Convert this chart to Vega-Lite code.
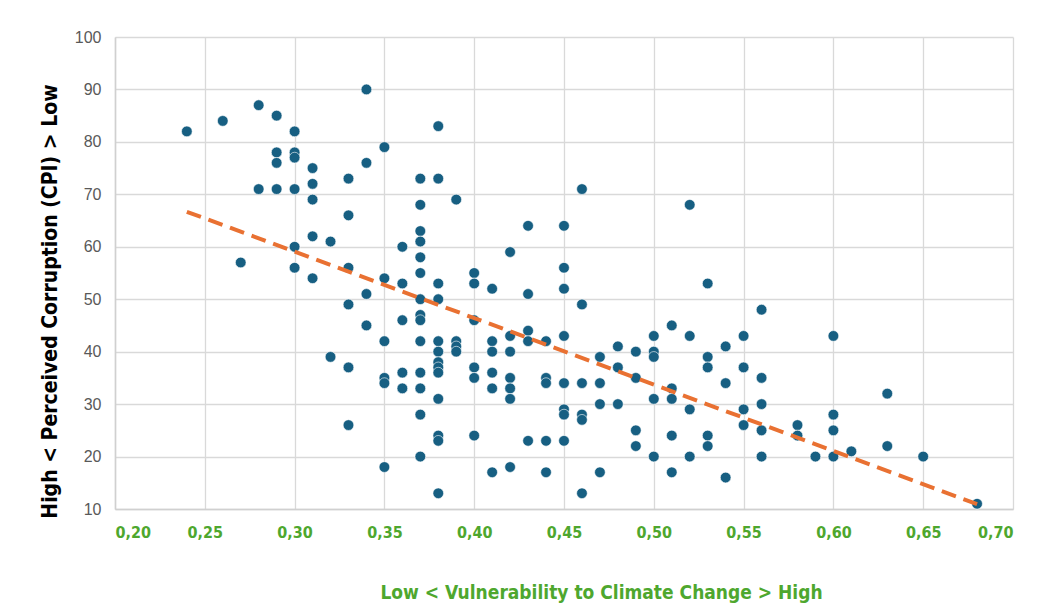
{
  "$schema": "https://vega.github.io/schema/vega-lite/v6.json",
  "autosize": {"type": "none"},
  "width": 898,
  "height": 472,
  "padding": {"left": 115, "top": 37, "right": 25, "bottom": 95},
  "background": "white",
  "config": {
    "view": {"stroke": null},
    "font": "Liberation Sans"
  },
  "data": {
    "values": [
      {"vuln": 0.24, "cpi": 82}, {"vuln": 0.26, "cpi": 84}, {"vuln": 0.27, "cpi": 57},
      {"vuln": 0.28, "cpi": 87}, {"vuln": 0.28, "cpi": 71},
      {"vuln": 0.29, "cpi": 85}, {"vuln": 0.29, "cpi": 78}, {"vuln": 0.29, "cpi": 76}, {"vuln": 0.29, "cpi": 71},
      {"vuln": 0.30, "cpi": 82}, {"vuln": 0.30, "cpi": 78}, {"vuln": 0.30, "cpi": 77}, {"vuln": 0.30, "cpi": 71}, {"vuln": 0.30, "cpi": 60}, {"vuln": 0.30, "cpi": 56},
      {"vuln": 0.31, "cpi": 75}, {"vuln": 0.31, "cpi": 72}, {"vuln": 0.31, "cpi": 69}, {"vuln": 0.31, "cpi": 62}, {"vuln": 0.31, "cpi": 54},
      {"vuln": 0.32, "cpi": 61}, {"vuln": 0.32, "cpi": 39},
      {"vuln": 0.33, "cpi": 73}, {"vuln": 0.33, "cpi": 66}, {"vuln": 0.33, "cpi": 56}, {"vuln": 0.33, "cpi": 49}, {"vuln": 0.33, "cpi": 37}, {"vuln": 0.33, "cpi": 26},
      {"vuln": 0.34, "cpi": 90}, {"vuln": 0.34, "cpi": 76}, {"vuln": 0.34, "cpi": 51}, {"vuln": 0.34, "cpi": 45},
      {"vuln": 0.35, "cpi": 79}, {"vuln": 0.35, "cpi": 54}, {"vuln": 0.35, "cpi": 42}, {"vuln": 0.35, "cpi": 35}, {"vuln": 0.35, "cpi": 34}, {"vuln": 0.35, "cpi": 18},
      {"vuln": 0.36, "cpi": 60}, {"vuln": 0.36, "cpi": 53}, {"vuln": 0.36, "cpi": 46}, {"vuln": 0.36, "cpi": 36}, {"vuln": 0.36, "cpi": 33},
      {"vuln": 0.37, "cpi": 73}, {"vuln": 0.37, "cpi": 68}, {"vuln": 0.37, "cpi": 63}, {"vuln": 0.37, "cpi": 61}, {"vuln": 0.37, "cpi": 58}, {"vuln": 0.37, "cpi": 55}, {"vuln": 0.37, "cpi": 50}, {"vuln": 0.37, "cpi": 47}, {"vuln": 0.37, "cpi": 46}, {"vuln": 0.37, "cpi": 42}, {"vuln": 0.37, "cpi": 36}, {"vuln": 0.37, "cpi": 33}, {"vuln": 0.37, "cpi": 28}, {"vuln": 0.37, "cpi": 20},
      {"vuln": 0.38, "cpi": 83}, {"vuln": 0.38, "cpi": 73}, {"vuln": 0.38, "cpi": 53}, {"vuln": 0.38, "cpi": 50}, {"vuln": 0.38, "cpi": 42}, {"vuln": 0.38, "cpi": 40}, {"vuln": 0.38, "cpi": 38}, {"vuln": 0.38, "cpi": 37}, {"vuln": 0.38, "cpi": 36}, {"vuln": 0.38, "cpi": 31}, {"vuln": 0.38, "cpi": 24}, {"vuln": 0.38, "cpi": 23}, {"vuln": 0.38, "cpi": 13},
      {"vuln": 0.39, "cpi": 69}, {"vuln": 0.39, "cpi": 42}, {"vuln": 0.39, "cpi": 41}, {"vuln": 0.39, "cpi": 40},
      {"vuln": 0.40, "cpi": 55}, {"vuln": 0.40, "cpi": 53}, {"vuln": 0.40, "cpi": 46}, {"vuln": 0.40, "cpi": 37}, {"vuln": 0.40, "cpi": 35}, {"vuln": 0.40, "cpi": 24},
      {"vuln": 0.41, "cpi": 52}, {"vuln": 0.41, "cpi": 42}, {"vuln": 0.41, "cpi": 40}, {"vuln": 0.41, "cpi": 36}, {"vuln": 0.41, "cpi": 33}, {"vuln": 0.41, "cpi": 17},
      {"vuln": 0.42, "cpi": 59}, {"vuln": 0.42, "cpi": 43}, {"vuln": 0.42, "cpi": 40}, {"vuln": 0.42, "cpi": 35}, {"vuln": 0.42, "cpi": 33}, {"vuln": 0.42, "cpi": 31}, {"vuln": 0.42, "cpi": 18},
      {"vuln": 0.43, "cpi": 64}, {"vuln": 0.43, "cpi": 51}, {"vuln": 0.43, "cpi": 44}, {"vuln": 0.43, "cpi": 42}, {"vuln": 0.43, "cpi": 23},
      {"vuln": 0.44, "cpi": 42}, {"vuln": 0.44, "cpi": 35}, {"vuln": 0.44, "cpi": 34}, {"vuln": 0.44, "cpi": 23}, {"vuln": 0.44, "cpi": 17},
      {"vuln": 0.45, "cpi": 64}, {"vuln": 0.45, "cpi": 56}, {"vuln": 0.45, "cpi": 52}, {"vuln": 0.45, "cpi": 43}, {"vuln": 0.45, "cpi": 34}, {"vuln": 0.45, "cpi": 29}, {"vuln": 0.45, "cpi": 28}, {"vuln": 0.45, "cpi": 23},
      {"vuln": 0.46, "cpi": 71}, {"vuln": 0.46, "cpi": 49}, {"vuln": 0.46, "cpi": 34}, {"vuln": 0.46, "cpi": 28}, {"vuln": 0.46, "cpi": 27}, {"vuln": 0.46, "cpi": 13},
      {"vuln": 0.47, "cpi": 39}, {"vuln": 0.47, "cpi": 34}, {"vuln": 0.47, "cpi": 30}, {"vuln": 0.47, "cpi": 17},
      {"vuln": 0.48, "cpi": 41}, {"vuln": 0.48, "cpi": 37}, {"vuln": 0.48, "cpi": 30},
      {"vuln": 0.49, "cpi": 40}, {"vuln": 0.49, "cpi": 35}, {"vuln": 0.49, "cpi": 25}, {"vuln": 0.49, "cpi": 22},
      {"vuln": 0.50, "cpi": 43}, {"vuln": 0.50, "cpi": 40}, {"vuln": 0.50, "cpi": 39}, {"vuln": 0.50, "cpi": 31}, {"vuln": 0.50, "cpi": 20},
      {"vuln": 0.51, "cpi": 45}, {"vuln": 0.51, "cpi": 33}, {"vuln": 0.51, "cpi": 31}, {"vuln": 0.51, "cpi": 24}, {"vuln": 0.51, "cpi": 17},
      {"vuln": 0.52, "cpi": 68}, {"vuln": 0.52, "cpi": 43}, {"vuln": 0.52, "cpi": 29}, {"vuln": 0.52, "cpi": 20},
      {"vuln": 0.53, "cpi": 53}, {"vuln": 0.53, "cpi": 39}, {"vuln": 0.53, "cpi": 37}, {"vuln": 0.53, "cpi": 24}, {"vuln": 0.53, "cpi": 22},
      {"vuln": 0.54, "cpi": 41}, {"vuln": 0.54, "cpi": 34}, {"vuln": 0.54, "cpi": 16},
      {"vuln": 0.55, "cpi": 43}, {"vuln": 0.55, "cpi": 37}, {"vuln": 0.55, "cpi": 29}, {"vuln": 0.55, "cpi": 26},
      {"vuln": 0.56, "cpi": 48}, {"vuln": 0.56, "cpi": 35}, {"vuln": 0.56, "cpi": 30}, {"vuln": 0.56, "cpi": 25}, {"vuln": 0.56, "cpi": 20},
      {"vuln": 0.58, "cpi": 26}, {"vuln": 0.58, "cpi": 24},
      {"vuln": 0.59, "cpi": 20},
      {"vuln": 0.60, "cpi": 43}, {"vuln": 0.60, "cpi": 28}, {"vuln": 0.60, "cpi": 25}, {"vuln": 0.60, "cpi": 20},
      {"vuln": 0.61, "cpi": 21},
      {"vuln": 0.63, "cpi": 32}, {"vuln": 0.63, "cpi": 22},
      {"vuln": 0.65, "cpi": 20},
      {"vuln": 0.68, "cpi": 11}
    ]
  },
  "layer": [
    {
      "mark": {"type": "point", "filled": true, "size": 115, "color": "#175F82", "opacity": 1, "stroke": "white", "strokeWidth": 0.6},
      "encoding": {
        "x": {
          "field": "vuln", "type": "quantitative",
          "scale": {"domain": [0.2, 0.7], "nice": false, "zero": false},
          "axis": {
            "values": [0.2, 0.25, 0.3, 0.35, 0.4, 0.45, 0.5, 0.55, 0.6, 0.65, 0.7],
            "labelExpr": "replace(format(datum.value, '.2f'), '.', ',')",
            "labelFont": "DejaVu Sans Condensed, Liberation Sans",
            "labelFontSize": 16,
            "labelFontWeight": "bold",
            "labelColor": "#4EA72E",
            "labelPadding": 15,
            "ticks": false,
            "domainColor": "#D0D0D0",
            "domainWidth": 1.5,
            "gridColor": "#D9D9D9",
            "gridWidth": 1.3,
            "title": "Low < Vulnerability to Climate Change > High",
            "titleFont": "DejaVu Sans Condensed, Liberation Sans",
            "titleFontSize": 19,
            "titleFontWeight": "bold",
            "titleColor": "#4EA72E",
            "titlePadding": 43,
            "titleX": 486
          }
        },
        "y": {
          "field": "cpi", "type": "quantitative",
          "scale": {"domain": [10, 100], "nice": false, "zero": false},
          "axis": {
            "values": [10, 20, 30, 40, 50, 60, 70, 80, 90, 100],
            "labelFont": "Liberation Sans",
            "labelFontSize": 16,
            "labelColor": "#595959",
            "labelPadding": 14,
            "ticks": false,
            "domainColor": "#D0D0D0",
            "domainWidth": 1.5,
            "gridColor": "#D9D9D9",
            "gridWidth": 1.3,
            "title": "High < Perceived Corruption (CPI) > Low",
            "titleFont": "DejaVu Sans Condensed, Liberation Sans",
            "titleFontSize": 21,
            "titleFontWeight": "bold",
            "titleColor": "#000000",
            "titlePadding": 14,
            "titleY": 264
          }
        }
      }
    },
    {
      "transform": [{"regression": "cpi", "on": "vuln"}],
      "mark": {"type": "line", "color": "#E97132", "strokeWidth": 4, "strokeDash": [15, 8], "strokeCap": "butt"},
      "encoding": {
        "x": {"field": "vuln", "type": "quantitative"},
        "y": {"field": "cpi", "type": "quantitative"}
      }
    }
  ]
}
